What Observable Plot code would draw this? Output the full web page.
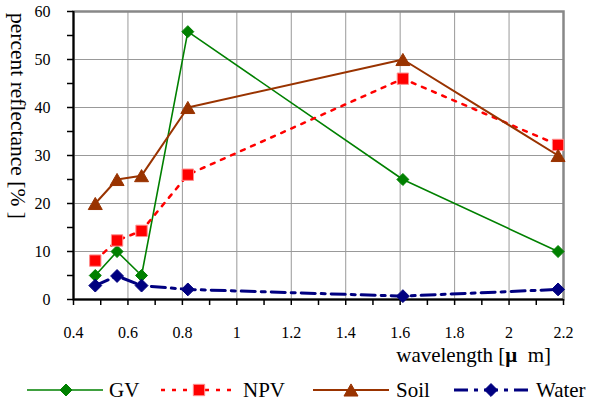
<!DOCTYPE html>
<html><head><meta charset="utf-8">
<script src="https://cdn.jsdelivr.net/npm/d3@7"></script>
<script src="https://cdn.jsdelivr.net/npm/@observablehq/plot@0.6"></script>
<style>
body{margin:0;background:#fff;}
#wrap{position:relative;width:596px;height:408px;font-family:"Liberation Serif","Times New Roman",serif;color:#000;overflow:hidden;}
#ytitle{position:absolute;left:6px;top:13px;writing-mode:vertical-rl;font-size:21.5px;line-height:24px;white-space:nowrap;}
#xtitle{position:absolute;right:45px;top:345px;font-size:21px;line-height:1;white-space:nowrap;}
#legend{position:absolute;left:0;top:370px;}
#legend text{font-family:"Liberation Serif","Times New Roman",serif;}
</style></head><body>
<div id="wrap"><div id="chart"></div>
<div id="ytitle">percent reflectance [% ]</div>
<div id="xtitle">wavelength [<b>μ</b>&nbsp; m]</div>
<svg id="legend" width="596" height="38"></svg></div>
<script>
// ---- data ----
const wavelength = [0.48, 0.56, 0.65, 0.82, 1.61, 2.18];
const gv    = [5, 10, 5, 55.8, 25, 10];
const npv   = [8.1, 12.3, 14.3, 26, 46, 32.2];
const soil  = [20, 25, 25.8, 40, 50, 30];
const water = [2.9, 4.9, 2.9, 2.1, 0.7, 2.1];
const seriesNames = ["GV", "NPV", "Soil", "Water"];
const seriesValues = [gv, npv, soil, water];
const xTicks = [0.4, 0.6, 0.8, 1, 1.2, 1.4, 1.6, 1.8, 2, 2.2];
const xTickLabels = ["0.4", "0.6", "0.8", "1", "1.2", "1.4", "1.6", "1.8", "2", "2.2"];
const xMinorTicks = [0.4, 0.5, 0.6, 0.7, 0.8, 0.9, 1, 1.1, 1.2, 1.3, 1.4, 1.5, 1.6, 1.7, 1.8, 1.9, 2, 2.1, 2.2];
const yTicks = [0, 10, 20, 30, 40, 50, 60];
const yTickLabels = ["0", "10", "20", "30", "40", "50", "60"];
const yMinorTicks = [0, 5, 10, 15, 20, 25, 30, 35, 40, 45, 50, 55, 60];

// ---- styles ----
const FONT = '"Liberation Serif", "Times New Roman", serif';
const styles = {
  GV:    {color: "#008000", width: 1.6, dash: null, symbol: "diamond2", r: 5.4, dy: 0, fill: "#008000", mstroke: "#008000"},
  NPV:   {color: "#ff0000", width: 2.5, dash: "4,7", symbol: "square", r: 6.4, dy: 0, fill: "#ff0000", mstroke: "#ff8c8c"},
  Soil:  {color: "#993300", width: 2, dash: null, symbol: "triangle", r: 5.2, dy: 2, fill: "#993300", mstroke: "#993300"},
  Water: {color: "#000080", width: 3, dash: "14,6,4,6", symbol: "diamond2", r: 5.8, dy: 0, fill: "#000080", mstroke: "#000080"}
};

const rows = seriesNames.flatMap((s, k) => wavelength.map((w, i) => ({series: s, x: w, y: seriesValues[k][i]})));

const seriesMarks = seriesNames.map(s => {
  const st = styles[s];
  const d = rows.filter(r => r.series === s);
  return Plot.line(d, {x: "x", y: "y", stroke: st.color, strokeWidth: st.width, strokeDasharray: st.dash});
});
const dotMarks = seriesNames.map(s => {
  const st = styles[s];
  const d = rows.filter(r => r.series === s);
  return Plot.dot(d, {x: "x", y: "y", symbol: () => st.symbol, r: st.r, fill: st.fill, stroke: st.mstroke, strokeWidth: 1, dy: st.dy});
});

const chart = Plot.plot({
  width: 596, height: 368,
  marginTop: 11, marginLeft: 73, marginRight: 33, marginBottom: 69,
  style: {fontFamily: FONT, fontSize: "16px", background: "white", color: "black"},
  x: {domain: [0.4, 2.2], label: null},
  y: {domain: [0, 60], label: null},
  symbol: {type: "identity"},
  marks: [
    Plot.gridX(xTicks, {stroke: "#999", strokeOpacity: 1, strokeWidth: 1}),
    Plot.gridY(yTicks, {stroke: "#999", strokeOpacity: 1, strokeWidth: 1}),
    Plot.frame({stroke: "#888", strokeWidth: 2.5}),
    Plot.ruleX([0.4], {stroke: "black", strokeWidth: 2}),
    Plot.ruleY([0], {stroke: "black", strokeWidth: 2}),
    Plot.axisX(xMinorTicks, {tickSize: 6, tickFormat: () => "", stroke: "black", strokeWidth: 1.5, label: null}),
    Plot.axisX(xTicks, {tickSize: 0, tickPadding: 27, tickFormat: d => xTickLabels[xTicks.indexOf(d)], label: null, fill: "black"}),
    Plot.axisY(yMinorTicks, {tickSize: 6, tickFormat: () => "", stroke: "black", strokeWidth: 1.5, label: null}),
    Plot.axisY(yTicks, {tickSize: 0, tickPadding: 23, tickFormat: d => yTickLabels[yTicks.indexOf(d)], label: null, fill: "black"}),
    ...seriesMarks,
    ...dotMarks
  ]
});
document.getElementById("chart").appendChild(chart);

// ---- legend ----
const legendLayout = {
  GV:    {x0: 27,  x1: 103, m: 66,  t: 109},
  NPV:   {x0: 161, x1: 238, m: 199, t: 243},
  Soil:  {x0: 313, x1: 389, m: 351, t: 396},
  Water: {x0: 454, x1: 530, m: 491, t: 536}
};
const symMap = {diamond2: d3.symbolDiamond2, square: d3.symbolSquare, triangle: d3.symbolTriangle};
const lg = d3.select("#legend");
const cy = 20;
seriesNames.forEach(s => {
  const st = styles[s], L = legendLayout[s];
  lg.append("line").attr("x1", L.x0).attr("x2", L.x1).attr("y1", cy).attr("y2", cy)
    .attr("stroke", st.color).attr("stroke-width", st.width).attr("stroke-dasharray", st.dash);
  lg.append("path").attr("d", d3.symbol(symMap[st.symbol], Math.PI * st.r * st.r)())
    .attr("transform", `translate(${L.m},${cy + st.dy})`).attr("fill", st.fill).attr("stroke", st.mstroke);
  lg.append("text").attr("x", L.t).attr("y", cy + 7).attr("font-size", 21).text(s);
});
</script></body></html>
